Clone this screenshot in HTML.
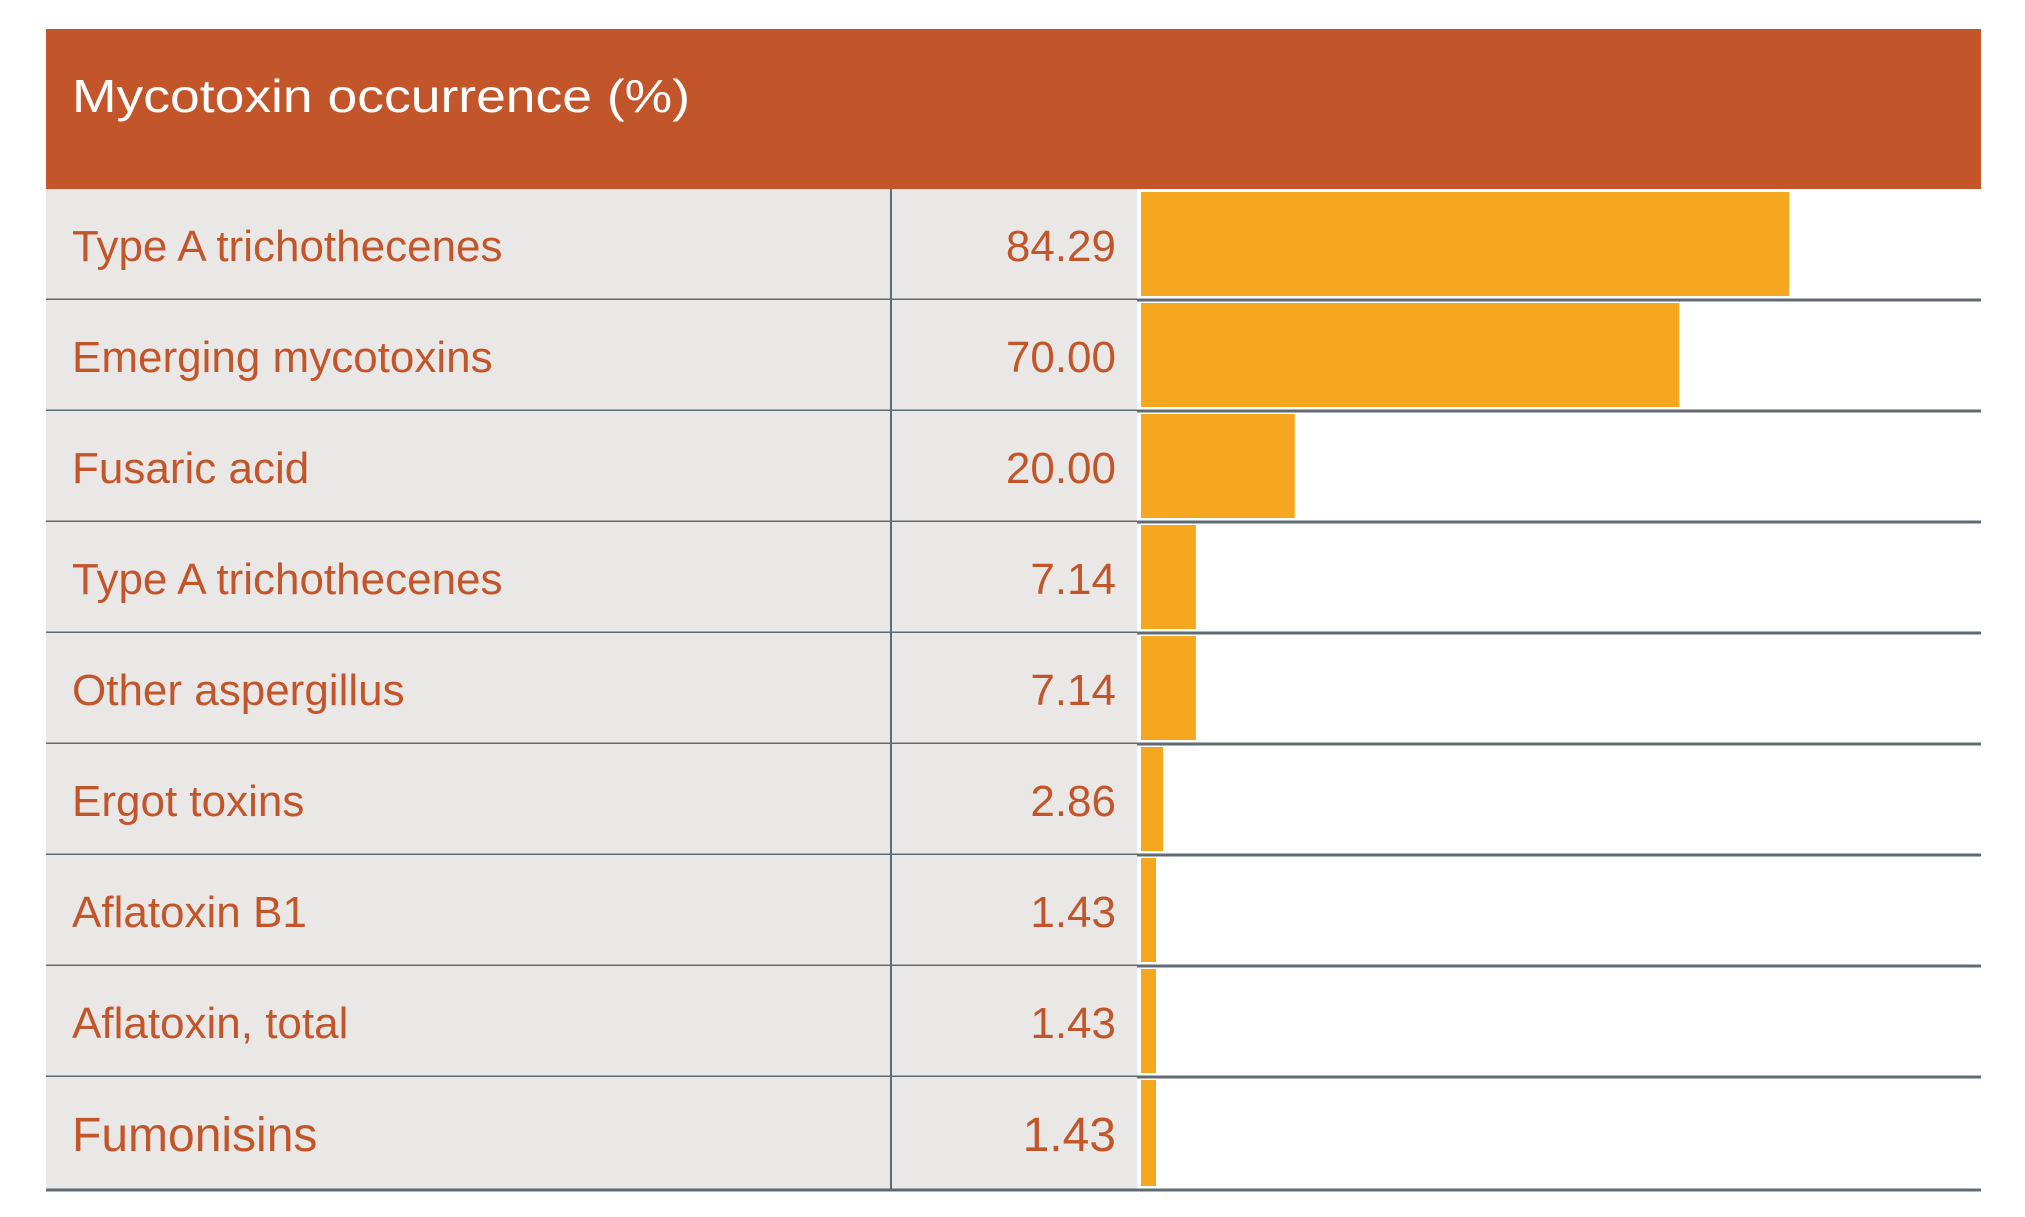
<!DOCTYPE html>
<html><head><meta charset="utf-8"><style>
html,body{margin:0;padding:0;background:#fff;}
svg{display:block;font-family:"Liberation Sans",sans-serif;}
</style></head><body>
<svg id="chart" width="2025" height="1217" viewBox="0 0 2025 1217" xmlns="http://www.w3.org/2000/svg">
<rect x="46" y="29" width="1935" height="160" fill="#c2562a"/>
<text x="72" y="112" font-size="46" fill="#ffffff" textLength="618" lengthAdjust="spacingAndGlyphs">Mycotoxin occurrence (%)</text>
<g id="rows"></g>
</svg>
<script>
const categories = ["Type A trichothecenes","Emerging mycotoxins","Fusaric acid","Type A trichothecenes","Other aspergillus","Ergot toxins","Aflatoxin B1","Aflatoxin, total","Fumonisins"];
const values = [84.29,70.00,20.00,7.14,7.14,2.86,1.43,1.43,1.43];
const valueLabels = ["84.29","70.00","20.00","7.14","7.14","2.86","1.43","1.43","1.43"];

const NS="http://www.w3.org/2000/svg";
const g=document.getElementById('rows');
const top0=189, rowH=111, left=46, right=1981, divX=891, barX0=1141, valRight=1116;
const xScale=v=>Math.max(15, v*7.69);
function mk(tag,attrs){const e=document.createElementNS(NS,tag);for(const k in attrs)e.setAttribute(k,attrs[k]);g.appendChild(e);return e;}
categories.forEach((c,i)=>{
  const y=top0+i*rowH;
  const h=(i===categories.length-1)?rowH+2:rowH;
  const bg=mk('rect',{x:left,y:y,width:barX0-left-4,height:h,fill:'#eae8e6'});
  
  
  const b=mk('rect',{x:barX0,y:y+3,width:xScale(values[i]),height:h-7,fill:'#f5a81f'});
  
  
  const fs=(i===categories.length-1)?48:44;
  const t=mk('text',{x:72,y:y+h/2+2,'font-size':fs,fill:'#c2562a','dominant-baseline':'central'});
  t.textContent=c;
  
  
  const v=mk('text',{x:valRight,y:y+h/2+2,'font-size':fs,fill:'#c2562a','text-anchor':'end','dominant-baseline':'central'});
  v.textContent=valueLabels[i];
  
  
  const l=mk('line',{x1:left,x2:right,y1:y+h,y2:y+h,stroke:'#5f6b73','stroke-width':3});
  
  
});
const vd=mk('line',{x1:divX,x2:divX,y1:top0,y2:top0+rowH*categories.length+2,stroke:'#5f6b73','stroke-width':2});


</script>
</body></html>
